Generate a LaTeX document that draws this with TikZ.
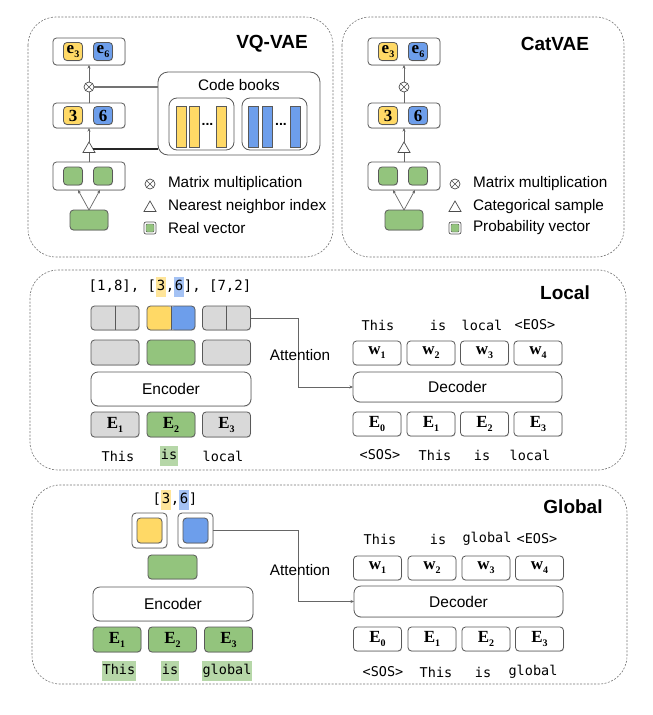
\documentclass[tikz,border=0pt]{standalone}
\usepackage{fontspec}
\setmainfont{Liberation Sans}
\newfontfamily\serifb{Liberation Serif}
\newfontfamily\monof{DejaVu Sans Mono}
\usetikzlibrary{arrows.meta,shapes.geometric,shadows}
\definecolor{cyel}{HTML}{FFD966}
\definecolor{cblu}{HTML}{6D9EEB}
\definecolor{cgrn}{HTML}{93C47D}
\definecolor{cgry}{HTML}{D9D9D9}
\definecolor{hyel}{HTML}{FFE599}
\definecolor{hblu}{HTML}{A4C2F4}
\definecolor{hgrn}{HTML}{B6D7A8}
\definecolor{edge}{HTML}{595959}
\newcommand\cellab[2]{{\serifb\bfseries\fontsize{17}{17}\selectfont #1\raisebox{-4pt}{\fontsize{10}{10}\selectfont #2}}}
\newcommand\digitlab[1]{{\serifb\bfseries\fontsize{17}{17}\selectfont #1}}
\newcommand\hlbox[2]{{\setlength\fboxsep{0.6pt}\colorbox{#1}{\strut #2}}}
\tikzset{
  every node/.style={inner sep=0pt, outer sep=0pt},
  frame/.style={draw=black!55, line width=0.6pt, dash pattern=on 2pt off 1.5pt, rounded corners=28pt},
  cellbox/.style={draw=edge, line width=0.8pt, rounded corners=3.5pt,
    drop shadow={shadow xshift=0.5pt, shadow yshift=-0.9pt, opacity=0.25}},
  holder/.style={cellbox, fill=white, minimum width=72pt, minimum height=27pt},
  sqr/.style={cellbox, minimum width=19pt, minimum height=18pt},
  wcell/.style={cellbox, fill=white, minimum width=48pt, minimum height=24pt},
  bigbox/.style={draw=edge, fill=white, line width=0.8pt, rounded corners=7pt,
    font=\fontsize{15.5}{18}\selectfont,
    drop shadow={shadow xshift=0.5pt, shadow yshift=-0.9pt, opacity=0.25}},
  conn/.style={draw=black!60, line width=0.7pt},
  arr/.style={conn, -{Stealth[length=3.5pt,width=3pt]}},
  otimes/.style={circle, draw=black!70, fill=white, line width=0.7pt, minimum size=10pt,
    path picture={\draw[black!70, line width=0.6pt]
      (path picture bounding box.north west) -- (path picture bounding box.south east)
      (path picture bounding box.north east) -- (path picture bounding box.south west);}},
  tri/.style={regular polygon, regular polygon sides=3, draw=black!70, fill=white,
    line width=0.7pt, minimum size=14pt},
  titletext/.style={font=\fontsize{19}{19}\selectfont\bfseries},
  legend/.style={anchor=west, font=\fontsize{15.3}{18}\selectfont},
  word/.style={font=\monof\fontsize{13.5}{18}\selectfont},
  idx/.style={font=\monof\fontsize{14}{19}\selectfont},
  split/.style={path picture={\draw[edge, line width=0.8pt]
      (path picture bounding box.north) -- (path picture bounding box.south);}},
  twotone/.style={path picture={
      \fill[cyel] (path picture bounding box.south west) rectangle (path picture bounding box.north);
      \fill[cblu] (path picture bounding box.south) rectangle (path picture bounding box.north east);
      \draw[edge, line width=0.8pt] (path picture bounding box.north) -- (path picture bounding box.south);}},
  bar/.style={draw=edge, line width=0.6pt, minimum width=10pt, minimum height=41pt},
}
\begin{document}
\begin{tikzpicture}[x=1pt, y=-1pt]
\useasboundingbox (0,0) rectangle (653,715);

% ================= frames
\draw[frame] (28,17) rectangle (333,257);
\draw[frame] (342,17) rectangle (624,257);
\draw[frame] (30,270) rectangle (626,470);
\draw[frame] (32,485) rectangle (627,684);

% ================= VQ-VAE
\node[titletext] (vqtitle) at (272,44) {VQ-VAE};
\node[holder] (vqT) at (89,51.5) {};
\node[sqr, fill=cyel] (vqTa) at (73,51.5) {\cellab{e}{3}};
\node[sqr, fill=cblu] (vqTb) at (103,51.5) {\cellab{e}{6}};
\node[otimes] (vqM) at (89,87) {};
\node[holder, minimum height=25pt] (vqI) at (89,115.5) {};
\node[sqr, fill=cyel] (vqIa) at (73,115.5) {\digitlab{3}};
\node[sqr, fill=cblu] (vqIb) at (103,115.5) {\digitlab{6}};
\node[tri] (vqN) at (89,149) {};
\node[holder, minimum height=28pt] (vqB) at (89,176) {};
\node[sqr, fill=cgrn] (vqBa) at (73,176) {};
\node[sqr, fill=cgrn] (vqBb) at (103,176) {};
\node[cellbox, fill=cgrn, minimum width=38pt, minimum height=20pt] (vqG) at (89,220) {};

\draw[arr] (vqG.north) -- (78,190);
\draw[arr] (vqG.north) -- (100,190);
\draw[conn] (vqB.north) -- (vqN.south);
\draw[arr] (vqN.corner 1) -- (vqI.south);
\draw[conn] (vqI.north) -- (vqM.south);
\draw[arr] (vqM.north) -- (vqT.south);

% code books
\node[draw=edge, fill=white, line width=0.8pt, rounded corners=10pt,
      minimum width=162pt, minimum height=83pt] (cb) at (239,113.5) {};
\node[font=\fontsize{15.3}{18}\selectfont] (cbt) at (239,85) {Code books};
\node[draw=edge, fill=white, line width=0.8pt, rounded corners=8pt,
      minimum width=65pt, minimum height=52pt] (cby) at (201.5,124) {};
\node[draw=edge, fill=white, line width=0.8pt, rounded corners=8pt,
      minimum width=65pt, minimum height=52pt] (cbb) at (274.5,124) {};
\node[bar, fill=cyel] (y1) at (181,126.5) {};
\node[bar, fill=cyel] (y2) at (194,126.5) {};
\node[bar, fill=cyel] (y3) at (221,126.5) {};
\node[font=\fontsize{14}{14}\selectfont\bfseries] (yd) at (207.5,124) {...};
\node[bar, fill=cblu] (b1) at (253,126.5) {};
\node[bar, fill=cblu] (b2) at (267,126.5) {};
\node[bar, fill=cblu] (b3) at (295,126.5) {};
\node[font=\fontsize{14}{14}\selectfont\bfseries] (bd) at (281,124) {...};

\draw[black!55, line width=1.7pt] (vqM.east) -- (vqM.east -| cb.west);
\draw[black!85, line width=1.4pt] (vqN.east) -- (cb.west |- vqN.east);

% legend VQ
\node[otimes] (lgm) at (150,184) {};
\node[legend] (lgmt) at (168,184) {Matrix multiplication};
\node[tri] (lgn) at (150,208) {};
\node[legend] (lgnt) at (168,207) {Nearest neighbor index};
\node[draw=edge, fill=white, line width=0.7pt, rounded corners=2pt, minimum size=12pt] (lgv) at (150,228) {};
\node[fill=cgrn, draw=edge, line width=0.4pt, rounded corners=1pt, minimum size=8pt] (lgvi) at (150,228) {};
\node[legend] (lgvt) at (168,228) {Real vector};

% ================= CatVAE
\node[titletext] (cttitle) at (555,44) {CatVAE};
\node[holder] (ctT) at (404,51.5) {};
\node[sqr, fill=cyel] (ctTa) at (388,51.5) {\cellab{e}{3}};
\node[sqr, fill=cblu] (ctTb) at (418,51.5) {\cellab{e}{6}};
\node[otimes] (ctM) at (404,87) {};
\node[holder, minimum height=25pt] (ctI) at (404,115.5) {};
\node[sqr, fill=cyel] (ctIa) at (388,115.5) {\digitlab{3}};
\node[sqr, fill=cblu] (ctIb) at (418,115.5) {\digitlab{6}};
\node[tri] (ctN) at (404,149) {};
\node[holder, minimum height=28pt] (ctB) at (404,176) {};
\node[sqr, fill=cgrn] (ctBa) at (388,176) {};
\node[sqr, fill=cgrn] (ctBb) at (418,176) {};
\node[cellbox, fill=cgrn, minimum width=38pt, minimum height=20pt] (ctG) at (404,220) {};

\draw[arr] (ctG.north) -- (393,190);
\draw[arr] (ctG.north) -- (415,190);
\draw[conn] (ctB.north) -- (ctN.south);
\draw[arr] (ctN.corner 1) -- (ctI.south);
\draw[conn] (ctI.north) -- (ctM.south);
\draw[arr] (ctM.north) -- (ctT.south);

\node[otimes] (clgm) at (455,184) {};
\node[legend] (clgmt) at (473,184) {Matrix multiplication};
\node[tri] (clgn) at (455,208) {};
\node[legend] (clgnt) at (473,207) {Categorical sample};
\node[draw=edge, fill=white, line width=0.7pt, rounded corners=2pt, minimum size=12pt] (clgv) at (455,228) {};
\node[fill=cgrn, draw=edge, line width=0.4pt, rounded corners=1pt, minimum size=8pt] (clgvi) at (455,228) {};
\node[legend] (clgvt) at (473,228) {Probability vector};

% ================= Local
\node[titletext] (ltitle) at (565,293) {Local};
\node[idx] (lidx) at (170,287) {[1,8], [\hlbox{hyel}{3},\hlbox{hblu}{6}], [7,2]};
\node[wcell, fill=cgry, split] (lq1) at (115,318) {};
\node[wcell, fill=cgry, twotone] (lq2) at (171,318) {};
\node[wcell, fill=cgry, split] (lq3) at (226.5,318) {};
\node[wcell, fill=cgry, minimum height=25pt] (lv1) at (115,352.5) {};
\node[wcell, fill=cgrn, minimum height=25pt] (lv2) at (171,352.5) {};
\node[wcell, fill=cgry, minimum height=25pt] (lv3) at (226.5,352.5) {};
\node[bigbox, minimum width=160pt, minimum height=34pt] (lenc) at (171,389) {Encoder};
\node[wcell, fill=cgry, minimum height=25pt] (le1) at (115,424.5) {\cellab{E}{1}};
\node[wcell, fill=cgrn, minimum height=25pt] (le2) at (171,424.5) {\cellab{E}{2}};
\node[wcell, fill=cgry, minimum height=25pt] (le3) at (226.5,424.5) {\cellab{E}{3}};
\node[word] (lw1) at (118,456) {This};
\node[word] (lw2) at (169,456) {\hlbox{hgrn}{is}};
\node[word] (lw3) at (223,456) {local};

\node[word] (ldo1) at (378,325) {This};
\node[word] (ldo2) at (438,325) {is};
\node[word] (ldo3) at (482,325) {local};
\node[word] (ldo4) at (535,325) {<EOS>};
\node[wcell] (lwc1) at (377,353) {\cellab{w}{1}};
\node[wcell] (lwc2) at (431,353) {\cellab{w}{2}};
\node[wcell] (lwc3) at (484.5,353) {\cellab{w}{3}};
\node[wcell] (lwc4) at (538,353) {\cellab{w}{4}};
\node[bigbox, minimum width=209pt, minimum height=30pt] (ldec) at (457.5,387) {Decoder};
\node[wcell] (lde0) at (377,424) {\cellab{E}{0}};
\node[wcell] (lde1) at (431,424) {\cellab{E}{1}};
\node[wcell] (lde2) at (484.5,424) {\cellab{E}{2}};
\node[wcell] (lde3) at (538,424) {\cellab{E}{3}};
\node[word] (ldi1) at (380,455) {<SOS>};
\node[word] (ldi2) at (435,455) {This};
\node[word] (ldi3) at (482,455) {is};
\node[word] (ldi4) at (530,455) {local};

\coordinate (lbend) at (298,387);
\draw[arr] (lq3.east) -| (lbend) -- (ldec.west);
\node[font=\fontsize{15.3}{18}\selectfont] (latt) at (300,355) {Attention};

% ================= Global
\node[titletext] (gtitle) at (573,507) {Global};
\node[idx] (gidx) at (175,500) {[\hlbox{hyel}{3},\hlbox{hblu}{6}]};
\node[cellbox, fill=white, rounded corners=4pt, minimum size=35pt] (gqa) at (149.5,530.5) {};
\node[cellbox, fill=cyel, minimum size=25pt] (gqai) at (149.5,530.5) {};
\node[cellbox, fill=white, rounded corners=4pt, minimum size=35pt] (gqb) at (195.5,530.5) {};
\node[cellbox, fill=cblu, minimum size=25pt] (gqbi) at (195.5,530.5) {};
\node[wcell, fill=cgrn, minimum width=49pt] (gv) at (172.5,567) {};
\node[bigbox, minimum width=160pt, minimum height=34pt] (genc) at (173,604) {Encoder};
\node[wcell, fill=cgrn, minimum height=25pt] (ge1) at (117,639.5) {\cellab{E}{1}};
\node[wcell, fill=cgrn, minimum height=25pt] (ge2) at (172.5,639.5) {\cellab{E}{2}};
\node[wcell, fill=cgrn, minimum height=25pt] (ge3) at (228.5,639.5) {\cellab{E}{3}};
\node[word] (gw1) at (119,671) {\hlbox{hgrn}{This}};
\node[word] (gw2) at (170,671) {\hlbox{hgrn}{is}};
\node[word] (gw3) at (227,671) {\hlbox{hgrn}{global}};

\node[word] (gdo1) at (380,539) {This};
\node[word] (gdo2) at (438,539) {is};
\node[word] (gdo3) at (487,539) {global};
\node[word] (gdo4) at (537,539) {<EOS>};
\node[wcell] (gwc1) at (377.5,568) {\cellab{w}{1}};
\node[wcell] (gwc2) at (432,568) {\cellab{w}{2}};
\node[wcell] (gwc3) at (486,568) {\cellab{w}{3}};
\node[wcell] (gwc4) at (539.5,568) {\cellab{w}{4}};
\node[bigbox, minimum width=209pt, minimum height=31pt] (gdec) at (458.5,601.5) {Decoder};
\node[wcell] (gde0) at (377.5,639) {\cellab{E}{0}};
\node[wcell] (gde1) at (432,639) {\cellab{E}{1}};
\node[wcell] (gde2) at (486,639) {\cellab{E}{2}};
\node[wcell] (gde3) at (539.5,639) {\cellab{E}{3}};
\node[word] (gdi1) at (383,672) {<SOS>};
\node[word] (gdi2) at (436,672) {This};
\node[word] (gdi3) at (483,672) {is};
\node[word] (gdi4) at (533,672) {global};

\coordinate (gbend) at (298,601.5);
\draw[arr] (gqb.east) -| (gbend) -- (gdec.west);
\node[font=\fontsize{15.3}{18}\selectfont] (gatt) at (300,570) {Attention};
\end{tikzpicture}
\end{document}
